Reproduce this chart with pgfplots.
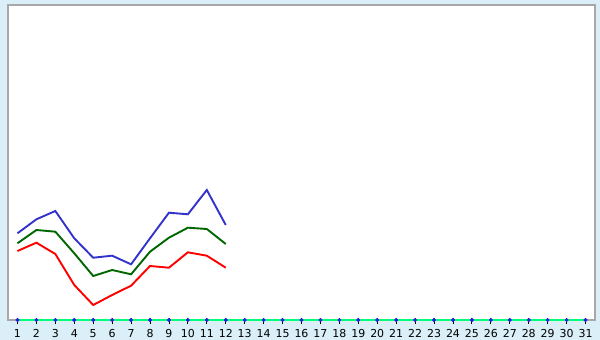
\documentclass[border=0pt]{standalone}
\usepackage{pgfplots}
\pgfplotsset{compat=1.18}
\usepackage{fontspec}
\setmainfont{DejaVu Sans}
\definecolor{bgc}{RGB}{218,239,247}
\definecolor{frm}{RGB}{168,168,168}
\definecolor{axg}{RGB}{0,255,120}
\definecolor{sblue}{RGB}{51,51,204}
\definecolor{sgreen}{RGB}{0,102,0}
\definecolor{sred}{RGB}{255,0,0}
\definecolor{mblue}{RGB}{30,30,220}
\begin{document}
\begin{tikzpicture}
\fill[bgc] (0,0) rectangle (600bp,340bp);
\begin{axis}[
  at={(8bp,20bp)}, anchor=south west,
  scale only axis, width=587bp, height=315bp,
  xmin=0.5, xmax=31.5, ymin=0, ymax=315,
  axis background/.style={fill=white},
  axis line style={frm, line width=1.3bp},
  xtick={1,...,31}, ytick=\empty,
  xtick pos=bottom,
  tick align=center,
  major tick length=6bp,
  tick style={black, line width=0.9bp, yshift=-1bp},
  xticklabel style={font=\fontsize{11}{13}\selectfont, yshift=-2.5bp},
  /pgf/number format/assume math mode=true,
  clip=false,
]
\addplot[axg, line width=1.4bp] coordinates {(1,0) (31,0)};
\addplot[sblue, line width=1.9bp] coordinates {
(1,86.7) (2,100.7) (3,109) (4,81.7) (5,62.3) (6,64.3) (7,55.7) (8,81.7) (9,107.3) (10,105.7) (11,130) (12,95)};
\addplot[sgreen, line width=1.9bp] coordinates {
(1,76.7) (2,90) (3,88.3) (4,66.7) (5,44) (6,50) (7,45.7) (8,68.3) (9,82.3) (10,92.3) (11,91) (12,76)};
\addplot[sred, line width=1.9bp] coordinates {
(1,69) (2,77.3) (3,66) (4,35) (5,15) (6,25) (7,34.3) (8,54) (9,52.3) (10,67.7) (11,64.3) (12,52.3)};
\addplot[only marks, mark=*, mark size=1.8bp, mblue] coordinates {
(1,0) (2,0) (3,0) (4,0) (5,0) (6,0) (7,0) (8,0) (9,0) (10,0) (11,0) (12,0) (13,0) (14,0) (15,0) (16,0) (17,0) (18,0) (19,0) (20,0) (21,0) (22,0) (23,0) (24,0) (25,0) (26,0) (27,0) (28,0) (29,0) (30,0) (31,0)};
\end{axis}
\pgfresetboundingbox
\useasboundingbox (0,0) rectangle (600bp,340bp);
\end{tikzpicture}
\end{document}
